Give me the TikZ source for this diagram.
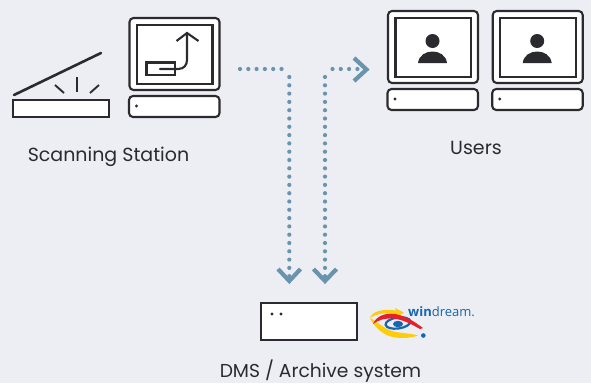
\documentclass[tikz,border=0pt]{standalone}
\usepackage{fontspec}
\setmainfont{Poppins}
\newfontfamily\logofont{Open Sans}
\definecolor{bgc}{HTML}{ECEEF3}
\definecolor{ink}{HTML}{2B2A2E}
\definecolor{flow}{HTML}{6A94AD}
\definecolor{logob}{HTML}{1565B0}
\definecolor{logoy}{HTML}{FFCC0A}
\definecolor{logor}{HTML}{E3202C}
\tikzset{
  x=1pt,y=-1pt,
  case/.style={draw=ink,line width=2.1pt,fill=white,rounded corners=4pt},
  screen/.style={draw=ink,line width=2.1pt,fill=white},
  pdot/.style={fill=ink,draw=none},
  thin ray/.style={draw=ink,line width=1.9pt},
  caption/.style={text=ink,font=\fontsize{19}{22}\selectfont,inner sep=0pt,anchor=base},
  flowdots/.style={draw=flow,line width=4.2pt,line cap=round,dash pattern=on 0pt off 8.3pt},
  chevron/.style={draw=flow,line width=4.2pt,line join=miter},
}
\newcommand{\wkstation}[2]{%
 \begin{scope}[shift={(#1,#2)}]
  \draw[case] (0,0) rectangle (90,72);
  \draw[screen] (7.5,7) rectangle (83,66);
  \draw[case] (-0.5,78) rectangle (90,99);
  \fill[pdot] (7,88) circle (1.6);
  \end{scope}}
\begin{document}
\begin{tikzpicture}
\useasboundingbox (0,0) rectangle (591,383);
\fill[bgc] (0,0) rectangle (591,383);
% scanner
\draw[draw=ink,line width=2.6pt,line cap=round] (14,95) -- (101,53);
\draw[screen] (13,100) rectangle (109,117);
\draw[thin ray] (55,85) -- (64,93);
\draw[thin ray] (77,77) -- (77,92);
\draw[thin ray] (99,85) -- (90,93);
% scanning workstation
\wkstation{129.5}{18}
\draw[screen] (146.5,62.5) rectangle (175,75);
\draw[draw=ink,line width=2.1pt,line cap=round] (160,69) -- (178,69) .. controls (184,69) and (187,65) .. (187,60) -- (187,33);
\draw[draw=ink,line width=2.1pt,line join=miter] (176.5,41) -- (187,33) -- (198.5,41);
% user workstations
\foreach \ux in {388,492.7}{
  \wkstation{\ux}{11}
  \fill[ink] (\ux+44.5,41) circle (7);
  \fill[ink] (\ux+30,63) .. controls (\ux+31,55) and (\ux+38,51.5) .. (\ux+44.5,51.5)
     .. controls (\ux+51,51.5) and (\ux+58,55) .. (\ux+59,63) -- cycle;
}
% captions
\node[caption] (scanlabel) at (108.5,161.5) {Scanning Station};
\node[caption] (userlabel) at (476,154) {Users};
\node[caption,font=\fontsize{18.7}{22}\selectfont] (dmslabel) at (320.5,377.5) {DMS / Archive system};
% DMS box
\node[draw=ink,line width=2.1pt,fill=white,minimum width=96pt,minimum height=37pt,inner sep=0pt] (dms) at (309,321.5) {};
\fill[pdot] (272,314) circle (1.6) (281,314) circle (1.6);
% flow connectors
\coordinate (a1) at (240,69); \coordinate (a2) at (283,69);
\coordinate (a3) at (289.3,77); \coordinate (a4) at (289.3,278);
\coordinate (b1) at (325,278); \coordinate (b2) at (325,77);
\coordinate (b3) at (332.5,69); \coordinate (b4) at (364,69);
\draw[flowdots] (a1) -- (a2) (a3) -- (a4);
\draw[flowdots] (b2) -- (b1) (b3) -- (b4);
\draw[chevron] (278,269) -- (289.3,281) -- (300.5,269);
\draw[chevron] (313.5,269) -- (325,281) -- (336.5,269);
\draw[chevron] (354,58) -- (366.5,69.5) -- (354,81);
% logo
\fill[logoy] (370,318) .. controls (372,311) and (384,308.5) .. (396,310.5) -- (395,308) -- (404,312.5) -- (396,317.5) -- (396,314) .. controls (386,312) and (376,314) .. (370,318) -- cycle;
\fill[logoy] (370,318) .. controls (378,322) and (383,328) .. (392,331) .. controls (400,333.5) and (410,333) .. (418,335.5) .. controls (410,338.5) and (396,339) .. (388,335.5) .. controls (380,332) and (374,326) .. (370,318) -- cycle;
\draw[logob,line width=2.2pt] (398,323) ellipse [x radius=12.5,y radius=5.5,rotate=8];
\fill[logob] (398,324) ellipse [x radius=5,y radius=3.2];
\fill[logor] (373,324) .. controls (376,316) and (386,312.5) .. (395,314) .. controls (407,316) and (416,323) .. (423,328) -- (420,329) .. controls (411,324) and (403,319.5) .. (393,318.5) .. controls (385,318) and (378,320) .. (373,324) -- cycle;
\fill[logob] (423.3,335.5) circle (2.3);
\node[anchor=base west,inner sep=0pt,text=logob,font=\logofont\fontsize{13}{15}\selectfont] (logotext) at (408,316.5) {\textbf{win}dream.};
\end{tikzpicture}
\end{document}
